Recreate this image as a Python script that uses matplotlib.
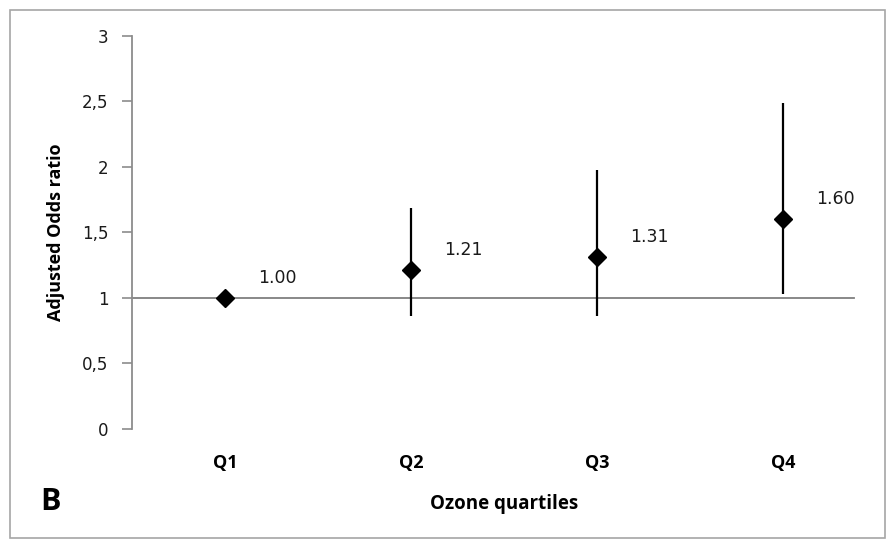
import matplotlib
matplotlib.use("Agg")
import matplotlib.pyplot as plt
from matplotlib.patches import Rectangle

quartiles = ["Q1", "Q2", "Q3", "Q4"]
odds_ratio = [1.00, 1.21, 1.31, 1.60]
ci_low = [1.00, 0.86, 0.86, 1.03]
ci_high = [1.00, 1.69, 1.98, 2.49]
y_ticks = [0, 0.5, 1, 1.5, 2, 2.5, 3]
y_tick_labels = ["0", "0,5", "1", "1,5", "2", "2,5", "3"]

fig = plt.figure(figsize=(8.94, 5.4), dpi=100)
ax = fig.add_axes([0.1477, 0.2056, 0.832, 0.7278])

# outer frame round the whole chart
fig.patches.append(Rectangle((0.011, 0.004), 0.979, 0.978, transform=fig.transFigure,
                             fill=False, edgecolor="#a6a6a6", linewidth=1.2))

x = list(range(len(quartiles)))
lower = [o - l for o, l in zip(odds_ratio, ci_low)]
upper = [h - o for o, h in zip(odds_ratio, ci_high)]

ax.axhline(1, xmin=0, xmax=0.97, color="#7f7f7f", linewidth=1.3, zorder=1)
ax.errorbar(x, odds_ratio, yerr=[lower, upper], fmt="D", color="black",
            markersize=9, elinewidth=1.6, capsize=0, zorder=3)

for xi, v in zip(x, odds_ratio):
    ax.annotate(f"{v:.2f}", (xi, v), xytext=(24, 11), textcoords="offset points",
                fontsize=12.5, family="DejaVu Sans", color="#1a1a1a")

ax.set_xlim(-0.5, 3.5)
ax.set_ylim(0, 3)
ax.set_yticks(y_ticks)
ax.set_yticklabels(y_tick_labels, fontsize=12, color="#1a1a1a")
ax.set_xticks(x)
ax.set_xticklabels(quartiles, fontsize=13, fontweight="bold", family="Open Sans")

for side in ["top", "right", "bottom"]:
    ax.spines[side].set_visible(False)
ax.spines["left"].set_color("#8c8c8c")
ax.spines["left"].set_linewidth(1.3)
ax.tick_params(axis="y", direction="out", length=7, width=1.2, color="#8c8c8c", pad=10)
ax.tick_params(axis="x", length=0, pad=18)

ax.set_ylabel("Adjusted Odds ratio", fontsize=13, fontweight="bold", family="Open Sans",
              labelpad=12)
ax.set_xlabel("Ozone quartiles", fontsize=13.5, fontweight="bold", family="Open Sans",
              labelpad=16)

fig.text(0.045, 0.055, "B", fontsize=22, fontweight="bold", family="Open Sans")

fig.savefig("out.png", dpi=100)
